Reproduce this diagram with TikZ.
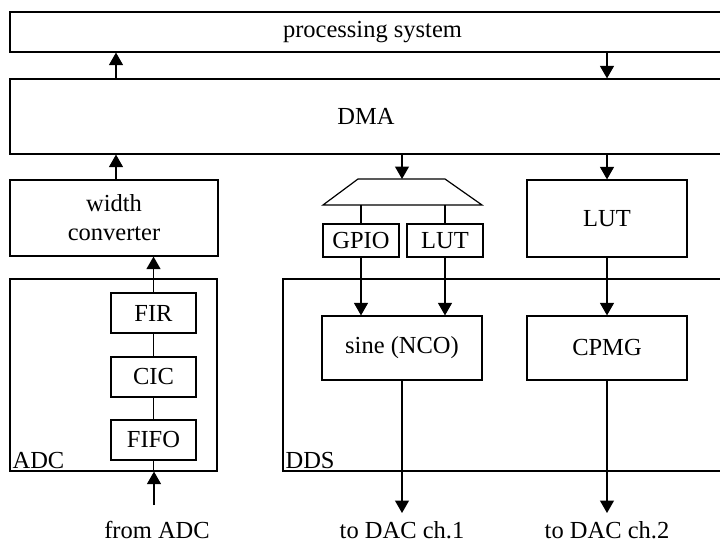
\documentclass[tikz,border=0pt]{standalone}
\usepackage{fontspec}
\setmainfont{Liberation Serif}
\usetikzlibrary{arrows.meta}
\begin{document}
\begin{tikzpicture}[x=1pt,y=-1pt,
  box/.style={draw, line width=1.2pt, inner sep=0pt, font=\fontsize{24.5}{29}\selectfont, align=center},
  lbl/.style={font=\fontsize{24.5}{29}\selectfont, inner sep=0pt},
  arr/.style={line width=1.2pt, -{Triangle[length=12.5pt,width=14pt]}},
  ln/.style={line width=1.2pt}]
\useasboundingbox (0,0) rectangle (720,546);
\clip (0,0) rectangle (720,546);
% top boxes
\node[box, minimum width=725, minimum height=40] (ps) at (372.5,32) {processing system};
\node[box, minimum width=712, minimum height=75] (dma) at (366,116.5) {DMA};
% ADC side
\node[box, minimum width=208, minimum height=76] (wc) at (114,218) {width\\converter};
\node[box, minimum width=207, minimum height=192] (adc) at (113.5,375) {};
\node[lbl, anchor=south west] (adcl) at ([shift={(3,-3)}]adc.south west) {ADC};
\node[box, minimum width=85, minimum height=40] (fir) at (153.5,313) {FIR};
\node[box, minimum width=85, minimum height=40] (cic) at (153.5,377) {CIC};
\node[box, minimum width=85, minimum height=40] (fifo) at (153.5,440) {FIFO};
% DDS side
\node[box, minimum width=457, minimum height=192] (dds) at (511.5,375) {};
\node[lbl, anchor=south west] (ddsl) at ([shift={(3,-3)}]dds.south west) {DDS};
\node[box, minimum width=76, minimum height=33] (gpio) at (361,240.5) {GPIO};
\node[box, minimum width=76, minimum height=33] (lut1) at (445,240.5) {LUT};
\node[box, minimum width=160, minimum height=64] (sine) at (402,348) {sine (NCO)};
\node[box, minimum width=160, minimum height=77] (lut2) at (607,218.5) {LUT};
\node[box, minimum width=160, minimum height=64] (cpmg) at (607,348) {CPMG};
% demultiplexer
\draw[ln] (358,179) -- (445,179) -- (482,205) -- (323,205) -- cycle;
\coordinate (mux) at (402,179);
\coordinate (muxb) at (402,205);
\draw[ln] (gpio.north) -- (gpio.north |- muxb);
\draw[ln] (lut1.north) -- (lut1.north |- muxb);
% ADC chain
\coordinate (adcin) at (154,505);
\draw[arr] (adcin) -- (adcin |- adc.south);
\draw[ln] (adc.south -| fifo.south) -- (fifo.south);
\draw[ln] (fifo.north) -- (cic.south);
\draw[ln] (cic.north) -- (fir.south);
\draw[arr] (fir.north) -- (fir.north |- wc.south);
\draw[arr] ([xshift=2]wc.north) -- ([xshift=2]wc.north |- dma.south);
\draw[arr] ([xshift=2]wc.north |- dma.north) -- ([xshift=2]wc.north |- ps.south);
\node[lbl, anchor=base] (from) at (157,538) {from ADC};
% DMA outputs
\draw[arr] (lut2.north |- ps.south) -- (lut2.north |- dma.north);
\draw[arr] (lut2.north |- dma.south) -- (lut2.north);
\draw[arr] (sine.north |- dma.south) -- (mux);
\draw[arr] (gpio.south) -- (gpio.south |- sine.north);
\draw[arr] (lut1.south) -- (lut1.south |- sine.north);
\draw[arr] (lut2.south) -- (cpmg.north);
% DAC outputs
\coordinate (dac1) at (402,513);
\coordinate (dac2) at (607,513);
\draw[arr] (sine.south) -- (dac1);
\draw[arr] (cpmg.south) -- (dac2);
\node[lbl, anchor=base] (t1) at (402,538) {to DAC ch.1};
\node[lbl, anchor=base] (t2) at (607,538) {to DAC ch.2};
\end{tikzpicture}
\end{document}
